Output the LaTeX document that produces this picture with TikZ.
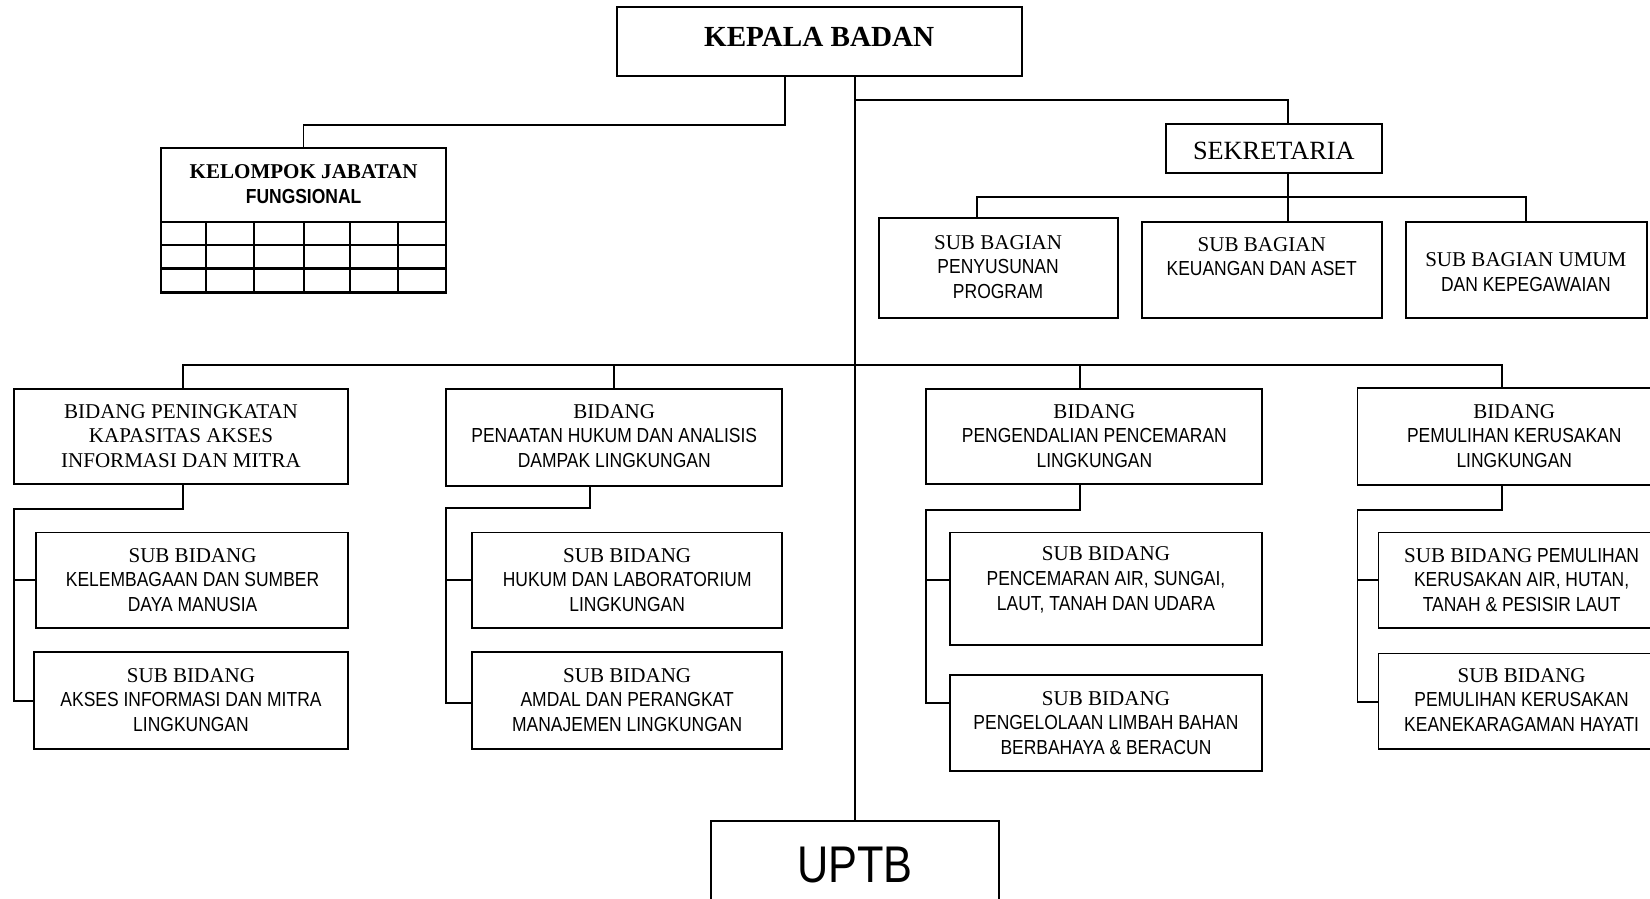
\documentclass[tikz,border=0pt]{standalone}
\usepackage{fontspec}
\setmainfont{Liberation Serif}
\newfontfamily\sansn[FakeStretch=0.86]{Liberation Sans}
\newfontfamily\uptbf[FakeStretch=0.84]{Liberation Sans}
\usetikzlibrary{fit}
\newcommand\fsr{\rmfamily\fontsize{20}{23.3}\selectfont}
\newcommand\fsn{\sansn\fontsize{19.3}{23.3}\selectfont}
\begin{document}
\begin{tikzpicture}[x=1pt,y=-1pt,
  box/.style={draw,line width=1.8pt,inner sep=0pt},
  txt/.style={align=center,inner sep=0pt,font=\fsn},
  ln/.style={line width=1.7pt}]
\useasboundingbox (0,0) rectangle (1568,854.3);

% ---------- boxes ----------
\node[box, fit={(586,7) (971,72)}] (kepala) {};
\node[txt, font=\rmfamily\bfseries\fontsize{27.7}{33}\selectfont] (kepalaT) at (778.5,35) {KEPALA BADAN};

\node[box, line width=2.1pt, fit={(153,141) (424,278)}] (kel) {};
\node[txt] (kelT) at (288.5,175) {{\fsr\bfseries KELOMPOK JABATAN}\\{\bfseries FUNGSIONAL}};
\foreach \yy in {210.7,232.5,255.3} \draw[line width=2.2pt] (153,\yy) -- (424,\yy);
\foreach \xx in {195.5,241.4,288.9,332.6,378.5} \draw[line width=2.2pt] (\xx,210.7) -- (\xx,278);

\node[box, fit={(1108,118) (1313.5,164)}] (sek) {};
\node[txt, font=\rmfamily\fontsize{25}{30}\selectfont] (sekT) at (1210.5,143) {SEKRETARIA};

\node[box, fit={(835,207.5) (1062.5,302)}] (sb1) {};
\node[txt] (sb1T) at (948.5,253.5) {{\fsr SUB BAGIAN}\\PENYUSUNAN\\PROGRAM};
\node[box, fit={(1085,211) (1313,302)}] (sb2) {};
\node[txt] (sb2T) at (1199,244) {{\fsr SUB BAGIAN}\\KEUANGAN DAN ASET};
\node[box, fit={(1336,211) (1565,302)}] (sb3) {};
\node[txt] (sb3T) at (1450,258.5) {{\fsr SUB BAGIAN UMUM}\\DAN KEPEGAWAIAN};

\node[box, fit={(13.3,370) (331,460)}] (b1) {};
\node[txt, font=\fsr] (b1T) at (172,414) {BIDANG PENINGKATAN\\KAPASITAS AKSES\\INFORMASI DAN MITRA};
\node[box, fit={(424,370) (743.5,462)}] (b2) {};
\node[txt] (b2T) at (583.7,414) {{\fsr BIDANG}\\PENAATAN HUKUM DAN ANALISIS\\DAMPAK LINGKUNGAN};
\node[box, fit={(880,370) (1199.6,460)}] (b3) {};
\node[txt] (b3T) at (1040,414) {{\fsr BIDANG}\\PENGENDALIAN PENCEMARAN\\LINGKUNGAN};
\node[box, fit={(1290,369) (1580,461)}] (b4) {};
\node[txt] (b4T) at (1439,414) {{\fsr BIDANG}\\PEMULIHAN KERUSAKAN\\LINGKUNGAN};

\node[box, fit={(34,506) (331,597)}] (s1a) {};
\node[txt] (s1aT) at (183,551) {{\fsr SUB BIDANG}\\KELEMBAGAAN DAN SUMBER\\DAYA MANUSIA};
\node[box, fit={(32,620) (331,712)}] (s1b) {};
\node[txt] (s1bT) at (181.5,665) {{\fsr SUB BIDANG}\\AKSES INFORMASI DAN MITRA\\LINGKUNGAN};

\node[box, fit={(448.2,506) (743.5,597)}] (s2a) {};
\node[txt] (s2aT) at (596,551) {{\fsr SUB BIDANG}\\HUKUM DAN LABORATORIUM\\LINGKUNGAN};
\node[box, fit={(448.2,620) (743.5,712)}] (s2b) {};
\node[txt] (s2bT) at (596,665) {{\fsr SUB BIDANG}\\AMDAL DAN PERANGKAT\\MANAJEMEN LINGKUNGAN};

\node[box, fit={(903,506) (1199.6,613)}] (s3a) {};
\node[txt] (s3aT) at (1051,551) {{\fsr SUB BIDANG}\\PENCEMARAN AIR, SUNGAI,\\LAUT, TANAH DAN UDARA};
\node[box, fit={(903,641.5) (1199.6,732.5)}] (s3b) {};
\node[txt] (s3bT) at (1051,687) {{\fsr SUB BIDANG}\\PENGELOLAAN LIMBAH BAHAN\\BERBAHAYA \& BERACUN};

\node[box, fit={(1310,506) (1580,597)}] (s4a) {};
\node[txt] (s4aT) at (1446,551) {{\fsr SUB BIDANG} PEMULIHAN\\KERUSAKAN AIR, HUTAN,\\TANAH \& PESISIR LAUT};
\node[box, fit={(1310,621) (1580,712)}] (s4b) {};
\node[txt] (s4bT) at (1446,665) {{\fsr SUB BIDANG}\\PEMULIHAN KERUSAKAN\\KEANEKARAGAMAN HAYATI};

\node[box, fit={(675.7,780) (949,900)}] (uptb) {};
\node[txt, font=\uptbf\fontsize{49}{55}\selectfont] (uptbT) at (812.5,822) {UPTB};

% ---------- connectors ----------
\draw[ln] (uptb.north |- kepala.south) -- (uptb.north);

\coordinate (kj) at (746,118.8);
\draw[ln] (kepala.south -| kj) -- (kj) -- (kj -| kel.north) -- (kel.north);

\coordinate (sj) at (812.4,95);
\coordinate (sx) at (1224.3,95);
\draw[ln] (sj) -- (sx) -- (sx |- sek.north);
\draw[ln] (sek.south -| sx) -- (sx |- sb2.north);
\coordinate (sbL) at (928.6,187.5);
\coordinate (sbR) at (1450,187.5);
\draw[ln] (sbL |- sb1.north) -- (sbL) -- (sbR) -- (sbR |- sb3.north);

\coordinate (bL) at (173.6,347);
\coordinate (bR) at (1427,347);
\coordinate (c2) at (583.7,347);
\coordinate (c3) at (1026.3,347);
\draw[ln] (bL |- b1.north) -- (bL) -- (bR) -- (bR |- b4.north);
\draw[ln] (c2) -- (c2 |- b2.north);
\draw[ln] (c3) -- (c3 |- b3.north);

% brackets
\coordinate (k1) at (13.3,484);
\coordinate (k1b) at (13.3,666);
\draw[ln] (bL |- b1.south) -- (bL |- k1) -- (k1) -- (k1b) -- (k1b -| s1b.west);
\draw[ln] (k1 |- s1a.west) -- (s1a.west);

\coordinate (k2) at (423.8,483);
\coordinate (k2t) at (560.7,483);
\coordinate (k2b) at (423.8,668);
\draw[ln] (k2t |- b2.south) -- (k2t) -- (k2) -- (k2b) -- (k2b -| s2b.west);
\draw[ln] (k2 |- s2a.west) -- (s2a.west);

\coordinate (k3) at (880,485);
\coordinate (k3a) at (880,551);
\coordinate (k3b) at (880,668);
\draw[ln] (c3 |- b3.south) -- (c3 |- k3) -- (k3) -- (k3b) -- (k3b -| s3b.west);
\draw[ln] (k3a) -- (k3a -| s3a.west);

\coordinate (k4) at (1290,485);
\coordinate (k4b) at (1290,667);
\draw[ln] (bR |- b4.south) -- (bR |- k4) -- (k4) -- (k4b) -- (k4b -| s4b.west);
\draw[ln] (k4 |- s4a.west) -- (s4a.west);
\end{tikzpicture}
\end{document}
